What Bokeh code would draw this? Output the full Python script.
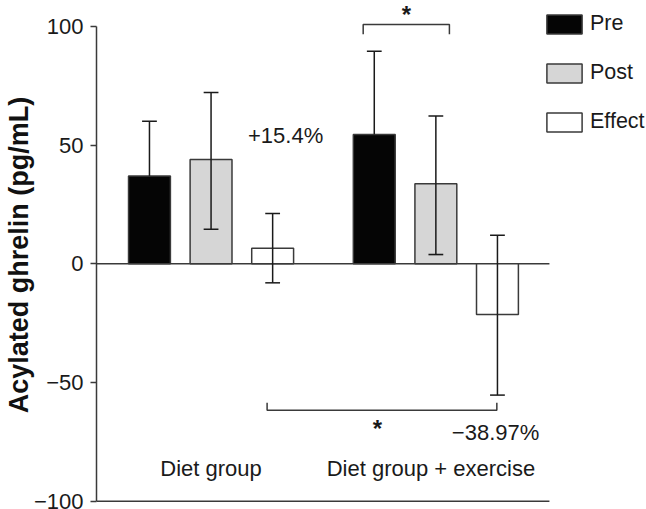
from bokeh.plotting import figure
from bokeh.models import Range1d, Legend, LegendItem, FixedTicker, ColumnDataSource
from bokeh.core.properties import value
from bokeh.embed import file_html
from bokeh.resources import INLINE

# ---- data ----
groups = ["Diet group", "Diet group + exercise"]
series = ["Pre", "Post", "Effect"]
pre_mean = [37.0, 54.5]
pre_upper = [60.1, 89.6]
post_mean = [44.0, 33.7]
post_upper = [72.2, 62.3]
post_lower = [14.6, 3.9]
effect_mean = [6.6, -21.3]
effect_upper = [21.2, 12.0]
effect_lower = [-8.0, -55.3]
effect_labels = ["+15.4%", "\u221238.97%"]
y_ticks = [-100, -50, 0, 50, 100]
y_tick_labels = ["\u2212100", "\u221250", "0", "50", "100"]

# ---- layout params ----
FONT = "Liberation Sans"
X0 = 0.86
GAP = 0.65
BAR_W = 0.68
CAP_W = 0.24
X_AXIS_END = 7.354
X_HI = 8.93
LINE_C = "#3a3a3a"
TXT_C = "#1a1a1a"
Y_LO, Y_HI = -103.5, 110.95
fills = {"Pre": "#050505", "Post": "#d6d6d6", "Effect": "#ffffff"}
means = {"Pre": pre_mean, "Post": post_mean, "Effect": effect_mean}
uppers = {"Pre": pre_upper, "Post": post_upper, "Effect": effect_upper}
lowers = {"Post": post_lower, "Effect": effect_lower}


def xpos(g, i):
    return X0 + g * (3 + GAP) + i


p = figure(width=646, height=509, output_backend="svg", toolbar_location=None,
           x_range=Range1d(0, X_HI), y_range=Range1d(Y_LO, Y_HI),
           x_axis_location=None, min_border_left=96, min_border_right=0,
           min_border_top=0, min_border_bottom=0)
p.outline_line_color = None
p.xgrid.visible = False
p.ygrid.visible = False
p.background_fill_color = None
p.border_fill_color = None

yax = p.yaxis[0]
yax.ticker = FixedTicker(ticks=y_ticks)
yax.major_label_overrides = {t: l for t, l in zip(y_ticks, y_tick_labels)}
yax.bounds = (y_ticks[0], y_ticks[-1])
yax.minor_tick_line_color = None
yax.major_tick_out = 6
yax.major_tick_in = 0
yax.major_tick_line_color = LINE_C
yax.major_tick_line_width = 1.5
yax.axis_line_color = LINE_C
yax.axis_line_width = 1.5
yax.major_label_text_font = FONT
yax.major_label_text_font_size = "22px"
yax.major_label_text_color = TXT_C
yax.major_label_standoff = 7
yax.axis_label = "Acylated ghrelin (pg/mL)"
yax.axis_label_text_font = FONT
yax.axis_label_text_font_size = "27px"
yax.axis_label_text_font_style = "bold"
yax.axis_label_text_color = "#111111"
yax.axis_label_standoff = -3

# zero line and bottom axis line (up to the end of the x axis)
p.segment(x0=[0, 0], y0=[0, y_ticks[0]], x1=[X_AXIS_END, X_AXIS_END], y1=[0, y_ticks[0]],
          line_color=LINE_C, line_width=1.5)

items = []
for i, s in enumerate(series):
    xs = [xpos(g, i) for g in range(len(groups))]
    src = ColumnDataSource(dict(x=xs, top=means[s], up=uppers[s],
                                cl=[x - CAP_W / 2 for x in xs], cr=[x + CAP_W / 2 for x in xs]))
    r = p.vbar(x="x", top="top", bottom=0, width=BAR_W, source=src,
               fill_color=fills[s], line_color=LINE_C, line_width=1.5)
    p.segment(x0="x", y0="top", x1="x", y1="up", source=src, line_color="#1a1a1a", line_width=1.5)
    p.segment(x0="cl", y0="up", x1="cr", y1="up", source=src, line_color="#1a1a1a", line_width=1.5)
    if s in lowers:
        src.data["lo"] = lowers[s]
        p.segment(x0="x", y0="lo", x1="x", y1="top", source=src, line_color="#1a1a1a", line_width=1.5)
        p.segment(x0="cl", y0="lo", x1="cr", y1="lo", source=src, line_color="#1a1a1a", line_width=1.5)
    items.append(LegendItem(label=s, renderers=[r]))

# group labels
p.text(x=[xpos(0, 1), xpos(1, 1) - 0.08], y=[-86.4] * len(groups), text=groups,
       text_font=value(FONT), text_font_size="22px", text_color=TXT_C,
       text_align="center", text_baseline="middle")

# effect percentage labels
p.text(x=[xpos(0, 2) + 0.21, xpos(1, 2) - 0.03], y=[54, -71], text=effect_labels,
       text_font=value(FONT), text_font_size="22px", text_color=TXT_C,
       text_align="center", text_baseline="middle")

# significance brackets
bx0, bx1 = xpos(1, 0) - 0.18, xpos(1, 1) + 0.22
p.line(x=[bx0, bx0, bx1, bx1], y=[96.7, 100.8, 100.8, 96.7], line_color=LINE_C, line_width=1.5)
cx0, cx1 = xpos(0, 2) - 0.09, xpos(1, 2) - 0.01
p.line(x=[cx0, cx0, cx1, cx1], y=[-58.5, -61.7, -61.7, -58.5], line_color=LINE_C, line_width=1.5)
p.text(x=[(bx0 + bx1) / 2], y=[Y_HI], text=["*"],
       text_font=value(FONT), text_font_size="24px", text_font_style="bold", text_color=TXT_C,
       text_align="center", text_baseline="top")
p.text(x=[4.56], y=[-69.5], text=["*"],
       text_font=value(FONT), text_font_size="24px", text_font_style="bold", text_color=TXT_C,
       text_align="center", text_baseline="middle")

legend = Legend(items=items, location=(446, 375), glyph_width=44, glyph_height=24,
                label_height=24, label_text_font=FONT, label_text_font_size="21.5px",
                label_text_color=TXT_C, label_standoff=4, spacing=24, padding=0, margin=0,
                border_line_alpha=0, background_fill_alpha=0)
p.add_layout(legend)

open("out.html", "w").write(file_html(p, INLINE))
